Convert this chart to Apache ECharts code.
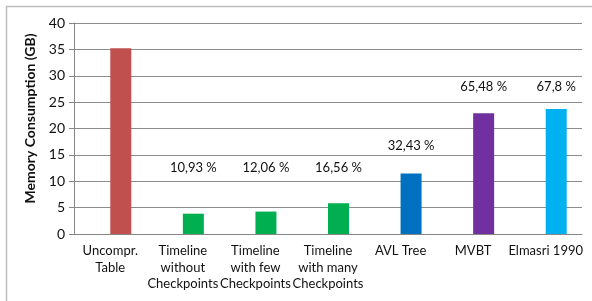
<!DOCTYPE html>
<html>
<head>
<meta charset="utf-8">
<script src="https://cdn.jsdelivr.net/npm/echarts@6/dist/echarts.min.js"></script>
<style>
  html, body { margin: 0; padding: 0; background: #fff; }
  #chart { width: 592px; height: 301px; }
</style>
</head>
<body>
<div id="chart"></div>
<script>
// categories and memory values (GB)
const categories = [
  "Uncompr.\nTable",
  "Timeline\nwithout\nCheckpoints",
  "Timeline\nwith few\nCheckpoints",
  "Timeline\nwith many\nCheckpoints",
  "AVL Tree",
  "MVBT",
  "Elmasri 1990"
];
const memory = [35.2, 3.85, 4.25, 5.83, 11.45, 22.9, 23.7];
const barColors = ["#C0504D", "#00B050", "#00B050", "#00B050", "#0070C0", "#7030A0", "#00B0F0"];
// percentage labels and the height (GB) where each label sits
const percentLabels = ["", "10,93 %", "12,06 %", "16,56 %", "32,43 %", "65,48 %", "67,8 %"];
const labelBase = [null, 11.3, 11.3, 11.3, 15.5, 26.6, 26.6];
const yTicks = [0, 5, 10, 15, 20, 25, 30, 35, 40];

const font = "Lato, 'Open Sans', sans-serif";
const chart = echarts.init(document.getElementById("chart"));

chart.setOption({
  animation: false,
  textStyle: { fontFamily: font },
  graphic: [
    { type: "line", shape: { x1: 6.5, y1: 7, x2: 6.5, y2: 301 }, style: { stroke: "#bdbdbd", lineWidth: 1.5 } },
    { type: "line", shape: { x1: 6, y1: 6.5, x2: 592, y2: 6.5 }, style: { stroke: "#bdbdbd", lineWidth: 1.5 } }
  ],
  grid: { left: 74, right: 10, top: 23, bottom: 67 },
  xAxis: {
    type: "category",
    data: categories,
    axisLine: { lineStyle: { color: "#868686" } },
    axisTick: { length: 4, lineStyle: { color: "#868686" } },
    axisLabel: { color: "#111", fontSize: 13, lineHeight: 16.5, margin: 9, interval: 0, fontFamily: font }
  },
  yAxis: {
    type: "value",
    min: yTicks[0],
    max: yTicks[yTicks.length - 1],
    interval: 5,
    name: "Memory Consumption (GB)",
    nameLocation: "middle",
    nameGap: 37,
    nameTextStyle: { fontWeight: "bold", fontSize: 14, color: "#111", fontFamily: font, padding: [0, 0, 0, 20] },
    axisLine: { show: true, lineStyle: { color: "#868686" } },
    axisTick: { show: true, length: 5, lineStyle: { color: "#868686" } },
    axisLabel: { color: "#111", fontSize: 14, margin: 9, fontFamily: font },
    splitLine: { lineStyle: { color: "#8c8c8c" } }
  },
  series: [
    {
      // empty series that pushes the real bars right, as in the original
      type: "bar",
      barWidth: 21,
      barGap: "0%",
      data: categories.map(() => null)
    },
    {
      type: "bar",
      stack: "mem",
      barWidth: 21,
      data: memory.map((v, i) => ({ value: v, itemStyle: { color: barColors[i] } }))
    },
    {
      // transparent spacer carrying the percentage label
      type: "bar",
      stack: "mem",
      barWidth: 21,
      itemStyle: { color: "rgba(0,0,0,0)" },
      label: {
        show: true,
        position: "top",
        distance: 0,
        color: "#111",
        fontSize: 13,
        fontFamily: font,
        formatter: (p) => percentLabels[p.dataIndex]
      },
      data: labelBase.map((h, i) => (h == null ? null : h - memory[i]))
    }
  ]
});
</script>
</body>
</html>
